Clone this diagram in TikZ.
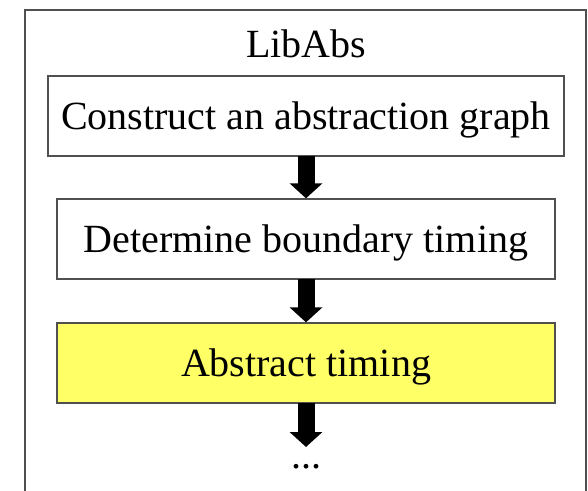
\documentclass[tikz,border=0pt]{standalone}
\usepackage{fontspec}
\setmainfont{Liberation Serif}
\usetikzlibrary{arrows.meta}
\definecolor{framegray}{RGB}{80,80,80}
\definecolor{stepyellow}{RGB}{255,255,102}
\begin{document}
\begin{tikzpicture}[x=1pt,y=-1pt,
  stepbox/.style={draw=framegray, line width=1.3pt, minimum width=#1, minimum height=80pt,
    inner sep=0pt, font=\fontsize{40}{40}\selectfont, text height=27pt, text depth=0pt},
  flow/.style={line width=17pt, black,
    -{Triangle[width=32pt,length=15pt]}, shorten <=-0.5pt}
]
\useasboundingbox (0,0) rectangle (588,490);
% outer frame, open past the lower edge
\draw[framegray, line width=1.5pt] (25,500) -- (25,10) -- (586,10) -- (586,500);
\node[font=\fontsize{40}{40}\selectfont, anchor=base] (title) at (306,57) {LibAbs};
\node[stepbox=516pt] (s1) at (306,116) {Construct an abstraction graph};
\node[stepbox=498pt] (s2) at (306,239) {Determine boundary timing};
\node[stepbox=498pt, fill=stepyellow, minimum height=80pt] (s3) at (306,363) {Abstract timing};
\node[font=\fontsize{40}{40}\selectfont, anchor=base, inner sep=0pt] (more) at (306,468) {...};
\coordinate (moretop) at (306,447);
\draw[flow] (s1.south) -- (s2.north);
\draw[flow] (s2.south) -- (s3.north);
\draw[flow] (s3.south) -- (moretop);
\end{tikzpicture}
\end{document}
